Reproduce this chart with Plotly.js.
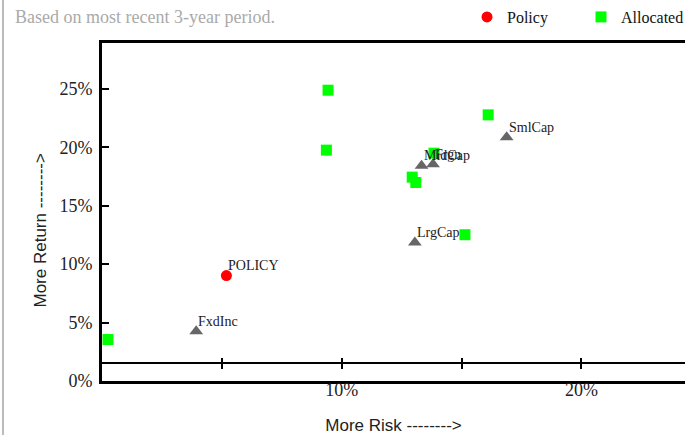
<!DOCTYPE html>
<html><head><meta charset="utf-8">
<script src="https://cdn.plot.ly/plotly-3.0.1.min.js"></script>
<style>html,body{margin:0;padding:0;background:#fff}</style>
</head><body><div id="chart" style="width:685px;height:435px"></div>
<script>
// Data (risk % on x, return % on y)
const assetNames  = ['FxdInc', 'LrgCap', 'MidCap', 'Frgn', 'SmlCap'];
const assetRisk   = [3.93, 13.05, 13.33, 13.81, 16.88];
const assetReturn = [4.26, 11.86, 18.42, 18.55, 20.87];

const policyNames  = ['POLICY'];
const policyRisk   = [5.19];
const policyReturn = [9.02];

const allocRisk   = [0.25, 9.43, 9.36, 16.11, 13.85, 12.94, 13.09, 15.14];
const allocReturn = [3.55, 24.89, 19.76, 22.78, 19.50, 17.45, 16.99, 12.52];

const xTickVals = [10, 20];
const xTickText = ['10%', '20%'];
const xMinorTickVals = [5, 10, 15, 20];
const yTickVals = [0, 5, 10, 15, 20, 25];
const yTickText = ['0%', '5%', '10%', '15%', '20%', '25%'];

const serif = 'Liberation Serif, Times New Roman, serif';
const sans = 'Liberation Sans, Arial, sans-serif';

const traces = [
  {
    type: 'scatter', mode: 'markers', name: 'Allocated', legendrank: 2,
    x: allocRisk, y: allocReturn,
    marker: {symbol: 'square', size: 11, color: '#00ff00'},
    hoverinfo: 'skip'
  },
  {
    type: 'scatter', mode: 'markers', name: 'Asset classes', showlegend: false,
    x: assetRisk, y: assetReturn,
    marker: {symbol: 'triangle-up', size: 12, color: '#666'},
    hoverinfo: 'skip'
  },
  {
    type: 'scatter', mode: 'markers', name: 'Policy', legendrank: 1,
    x: policyRisk, y: policyReturn,
    marker: {symbol: 'circle', size: 11, color: '#ff0000'},
    hoverinfo: 'skip'
  },
  {type: 'scatter', mode: 'markers', x: [], y: [], xaxis: 'x2', showlegend: false, hoverinfo: 'skip'},
  {type: 'scatter', mode: 'markers', x: [], y: [], xaxis: 'x3', showlegend: false, hoverinfo: 'skip'}
];

const labelFont = {family: serif, size: 14, color: '#222'};
function pointLabels(names, xs, ys) {
  return names.map((n, i) => ({
    x: xs[i], y: ys[i], xref: 'x', yref: 'y', text: n, showarrow: false,
    xanchor: 'left', yanchor: 'middle', xshift: 0, yshift: 10, font: labelFont
  }));
}

const plotH = 435 - 43 - 54;
const annotations = pointLabels(assetNames, assetRisk, assetReturn)
  .concat(pointLabels(policyNames, policyRisk, policyReturn))
  .concat([{
    text: 'More Return -------->', textangle: -90, showarrow: false,
    xref: 'paper', yref: 'paper', x: (40 - 102) / 583, y: (381.5 - 231) / plotH,
    xanchor: 'center', yanchor: 'middle',
    font: {family: sans, size: 17, color: '#222'}
  }]);

const layout = {
  width: 685, height: 435,
  margin: {l: 102, r: 0, t: 43, b: 54},
  paper_bgcolor: '#fff', plot_bgcolor: '#fff',
  showlegend: true,
  hovermode: false,
  title: {
    text: 'Based on most recent 3-year period.',
    font: {family: serif, size: 18, color: '#aaaaaa'},
    xref: 'container', yref: 'container',
    x: 15 / 685, xanchor: 'left', y: 1 - 17 / 435, yanchor: 'middle'
  },
  legend: {
    orientation: 'h', xref: 'container', yref: 'container',
    x: 467 / 685, xanchor: 'left', y: 1 - 17 / 435, yanchor: 'middle',
    entrywidth: 69,
    font: {family: serif, size: 16, color: '#111'},
    bgcolor: 'rgba(0,0,0,0)'
  },
  xaxis: {
    range: [0, 24.32], tickvals: xTickVals, ticktext: xTickText,
    ticks: '', showgrid: false, zeroline: false,
    showline: true, linecolor: '#000', linewidth: 3, mirror: true,
    ticklabelstandoff: -10,
    tickfont: {family: serif, size: 18, color: '#222'},
    title: {text: 'More Risk -------->', font: {family: sans, size: 17, color: '#222'}, standoff: 27}
  },
  xaxis2: {
    overlaying: 'x', anchor: 'free', position: (381.5 - 363) / plotH,
    range: [0, 24.32], tickvals: xMinorTickVals, showticklabels: false,
    ticks: 'outside', ticklen: 5, tickwidth: 2, tickcolor: '#000',
    showline: true, linecolor: '#000', linewidth: 2,
    showgrid: false, zeroline: false
  },
  xaxis3: {
    overlaying: 'x', anchor: 'free', position: (381.5 - 363) / plotH,
    range: [0, 24.32], tickvals: xMinorTickVals, showticklabels: false,
    ticks: 'inside', ticklen: 5, tickwidth: 2, tickcolor: '#000',
    showline: false, showgrid: false, zeroline: false
  },
  yaxis: {
    range: [0, 28.93], tickvals: yTickVals, ticktext: yTickText,
    ticks: 'inside', ticklen: 7, tickwidth: 2, tickcolor: '#000',
    showgrid: false, zeroline: false,
    showline: true, linecolor: '#000', linewidth: 3,
    ticklabelstandoff: 3,
    tickfont: {family: serif, size: 18, color: '#222'}
  },
  annotations: annotations,
  shapes: [{
    type: 'line', xref: 'paper', yref: 'paper',
    x0: (3 - 102) / 583, x1: (3 - 102) / 583,
    y0: -54 / plotH, y1: 1 + 43 / plotH,
    line: {color: '#bbbbbb', width: 2}
  }]
};

Plotly.newPlot('chart', traces, layout, {displayModeBar: false, staticPlot: true});
</script></body></html>
